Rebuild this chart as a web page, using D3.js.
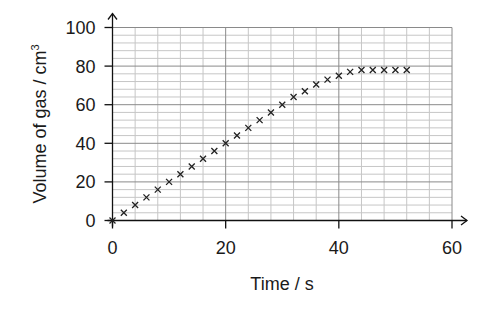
<!DOCTYPE html>
<html><head><meta charset="utf-8">
<script src="https://cdn.jsdelivr.net/npm/d3@7"></script>
<style>body{margin:0;background:#fff}svg{display:block}text{font-family:"Liberation Sans",Arial,sans-serif}</style>
</head><body><svg id="c" width="502" height="310"></svg>
<script>
const times = [0,2,4,6,8,10,12,14,16,18,20,22,24,26,28,30,32,34,36,38,40,42,44,46,48,50,52];
const volumes = [0,4,8,12,16,20,24,28,32,36,40,44,48,52,56,60,64,67,70.5,73,75,77,78,78,78,78,78];
const xTicks = [0,20,40,60];
const yTicks = [0,20,40,60,80,100];
const xTitle = "Time / s";
const yTitle = "Volume of gas / cm";

const svg = d3.select("#c");
const x = d3.scaleLinear().domain([0,60]).range([112.5,452]);
const y = d3.scaleLinear().domain([0,100]).range([220.5,27.5]);

const grid = svg.append("g");
const minor = d3.range(0,61,4), minorY = d3.range(0,101,4);
grid.selectAll("line.vx").data(minor.filter(d=>d%20!==0)).join("line")
  .attr("x1",d=>x(d)).attr("x2",d=>x(d)).attr("y1",y(100)).attr("y2",y(0))
  .attr("stroke","#c6c6c6").attr("stroke-width",1);
grid.selectAll("line.hy").data(minorY.filter(d=>d%20!==0)).join("line")
  .attr("y1",d=>y(d)).attr("y2",d=>y(d)).attr("x1",x(0)).attr("x2",x(60))
  .attr("stroke","#c6c6c6").attr("stroke-width",1);
grid.selectAll("line.mx").data(xTicks.filter(d=>d>0)).join("line")
  .attr("x1",d=>x(d)).attr("x2",d=>x(d)).attr("y1",y(100)).attr("y2",y(0))
  .attr("stroke","#8a8a8a").attr("stroke-width",1);
grid.selectAll("line.my").data(yTicks.filter(d=>d>0)).join("line")
  .attr("y1",d=>y(d)).attr("y2",d=>y(d)).attr("x1",x(0)).attr("x2",x(60))
  .attr("stroke","#8a8a8a").attr("stroke-width",1);

// axes
const ax = svg.append("g").attr("stroke","#111").attr("stroke-width",1.3).attr("fill","none");
ax.append("line").attr("x1",x(0)-5).attr("x2",x(60)+15).attr("y1",y(0)).attr("y2",y(0));
ax.append("line").attr("x1",x(0)).attr("x2",x(0)).attr("y1",y(0)+6).attr("y2",y(100)-14);
ax.append("path").attr("d",`M${x(60)+9},${y(0)-4.5}L${x(60)+15},${y(0)}L${x(60)+9},${y(0)+4.5}`);
ax.append("path").attr("d",`M${x(0)-4.5},${y(100)-8}L${x(0)},${y(100)-14}L${x(0)+4.5},${y(100)-8}`);
ax.selectAll("line.ty").data(yTicks).join("line")
  .attr("x1",x(0)-8).attr("x2",x(0)).attr("y1",d=>y(d)).attr("y2",d=>y(d));
ax.selectAll("line.tx").data(xTicks).join("line")
  .attr("x1",d=>x(d)).attr("x2",d=>x(d)).attr("y1",y(0)).attr("y2",y(0)+8);

const fs = 18;
svg.selectAll("text.yl").data(yTicks).join("text")
  .attr("x",x(0)-17).attr("y",d=>y(d)).attr("dy","0.36em").attr("text-anchor","end")
  .attr("font-size",fs).attr("fill","#1a1a1a").text(d=>d);
svg.selectAll("text.xl").data(xTicks).join("text")
  .attr("x",d=>x(d)).attr("y",y(0)+33).attr("text-anchor","middle")
  .attr("font-size",fs).attr("fill","#1a1a1a").text(d=>d);

svg.append("text").attr("x",282).attr("y",290).attr("text-anchor","middle")
  .attr("font-size",fs).attr("fill","#1a1a1a").text(xTitle);
const yt = svg.append("text").attr("transform","translate(46,124) rotate(-90)").attr("text-anchor","middle")
  .attr("font-size",fs).attr("fill","#1a1a1a");
yt.append("tspan").text(yTitle);
yt.append("tspan").attr("font-size",11).attr("dy",-7).text("3");

// markers
const pts = times.map((t,i)=>[t,volumes[i]]);
svg.append("g").selectAll("path").data(pts).join("path")
  .attr("d",d=>{const cx=x(d[0]),cy=y(d[1]),r=3;return `M${cx-r},${cy-r}L${cx+r},${cy+r}M${cx-r},${cy+r}L${cx+r},${cy-r}`;})
  .attr("stroke","#222").attr("stroke-width",1.3).attr("fill","none");
</script></body></html>
